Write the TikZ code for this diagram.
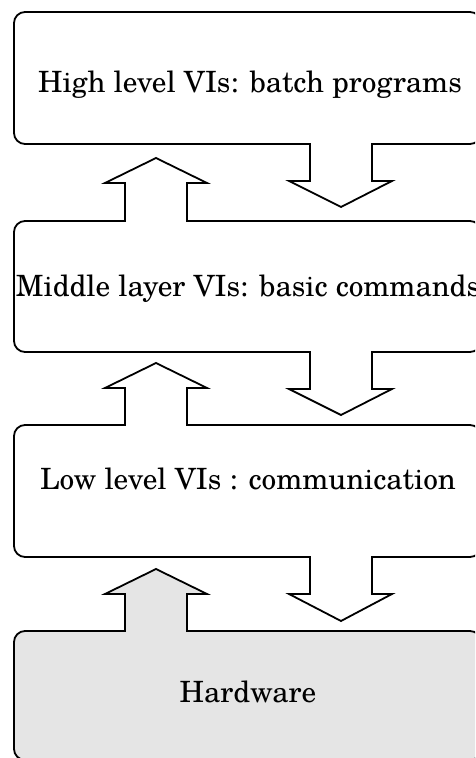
\documentclass[tikz,border=0pt]{standalone}
\usepackage{fontspec}
\setmainfont{texgyreschola-regular.otf}
\definecolor{hwgray}{HTML}{E5E5E5}
\tikzset{
  layer/.style={draw=black, line width=1.8pt, line join=miter, fill=white},
  hwlayer/.style={layer, fill=hwgray},
  lbl/.style={anchor=base, inner sep=0pt, font=\fontsize{29.3}{34}\selectfont}
}
\begin{document}
\begin{tikzpicture}[x=1pt, y=1pt]
  \useasboundingbox (0,0) rectangle (475,758);
  \clip (0,0) rectangle (475,758);
  % corner radius and horizontal extent of every layer
  \def\rr{11}
  \def\xl{14}
  \def\xr{481}
  % top layer (y 746..614) with its down arrow
  \draw[layer] (\xl,625) -- (\xl,735) arc[start angle=180, end angle=90, radius=\rr]
    -- (470,746) arc[start angle=90, end angle=0, radius=\rr]
    -- (\xr,625) arc[start angle=0, end angle=-90, radius=\rr]
    -- (372,614) -- (372,577) -- (392,577) -- (341,551) -- (289,577) -- (310,577) -- (310,614)
    -- (25,614) arc[start angle=270, end angle=180, radius=\rr] -- cycle;
  % middle layer (y 537..406) with up and down arrows
  \draw[layer] (\xl,417) -- (\xl,526) arc[start angle=180, end angle=90, radius=\rr]
    -- (125,537) -- (125,575) -- (105,575) -- (156,600) -- (207,575) -- (187,575) -- (187,537)
    -- (470,537) arc[start angle=90, end angle=0, radius=\rr]
    -- (\xr,417) arc[start angle=0, end angle=-90, radius=\rr]
    -- (372,406) -- (372,369) -- (392,369) -- (341,343) -- (289,369) -- (310,369) -- (310,406)
    -- (25,406) arc[start angle=270, end angle=180, radius=\rr] -- cycle;
  % low layer (y 333..201) with up and down arrows
  \draw[layer] (\xl,212) -- (\xl,322) arc[start angle=180, end angle=90, radius=\rr]
    -- (125,333) -- (125,370) -- (105,370) -- (156,395) -- (207,370) -- (187,370) -- (187,333)
    -- (470,333) arc[start angle=90, end angle=0, radius=\rr]
    -- (\xr,212) arc[start angle=0, end angle=-90, radius=\rr]
    -- (372,201) -- (372,164) -- (392,164) -- (341,137) -- (289,164) -- (310,164) -- (310,201)
    -- (25,201) arc[start angle=270, end angle=180, radius=\rr] -- cycle;
  % hardware layer (top at y 127) with its up arrow
  \draw[hwlayer] (\xl,9) -- (\xl,116) arc[start angle=180, end angle=90, radius=\rr]
    -- (125,127) -- (125,164) -- (105,164) -- (156,189) -- (207,164) -- (187,164) -- (187,127)
    -- (470,127) arc[start angle=90, end angle=0, radius=\rr]
    -- (\xr,9) arc[start angle=0, end angle=-90, radius=\rr]
    -- (25,-2) arc[start angle=270, end angle=180, radius=\rr] -- cycle;
  % layer captions
  \node[lbl] (high) at (250,665) {High level VIs: batch programs};
  \node[lbl] (mid)  at (248,461) {Middle layer VIs: basic commands};
  \node[lbl] (low)  at (248,268) {Low level VIs : communication};
  \node[lbl] (hw)   at (248,55)  {Hardware};
\end{tikzpicture}
\end{document}
